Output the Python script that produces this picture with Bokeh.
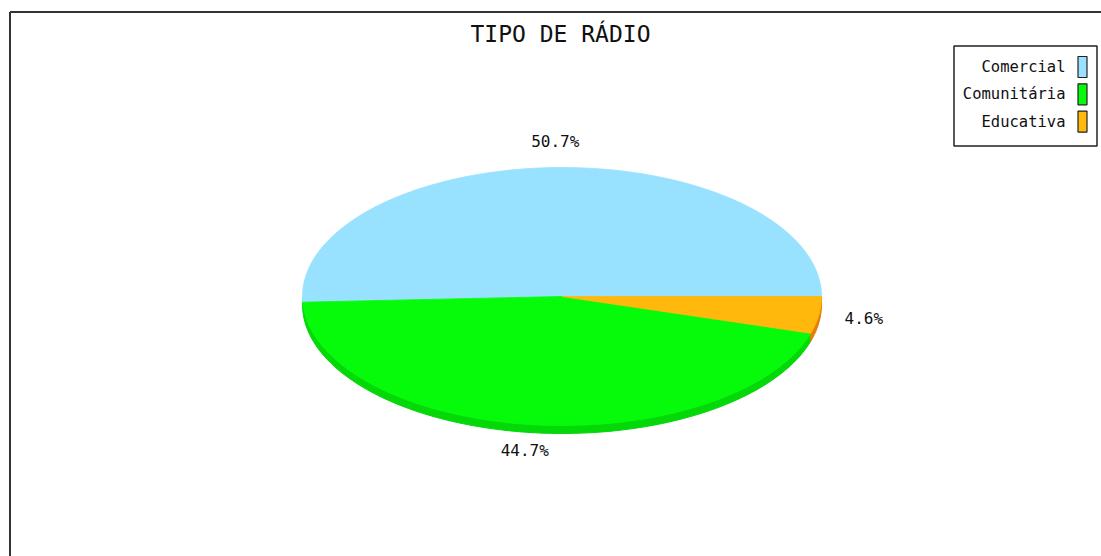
import numpy as np
from bokeh.plotting import figure
from bokeh.models import Range1d
from bokeh.core.properties import value
from bokeh.embed import file_html
from bokeh.resources import INLINE

# ---- data ----
title = "TIPO DE RÁDIO"
categories = ["Comercial", "Comunitária", "Educativa"]
percents = [50.7, 44.7, 4.6]
colors = ["#98e1ff", "#06fb0a", "#ffb80b"]
side_colors = ["#7fc6e6", "#04d808", "#e57d06"]

# ---- layout (pixel space) ----
W, H = 1101, 556
OFF = 8
cx, cy = 553.5, 288.0
rx, ry = 259.5, 129.0
depth = 8.0
lab_rx, lab_ry = 305.0, 155.0
FONT = "DejaVu Sans Mono"

p = figure(width=W, height=H, x_range=Range1d(-OFF, W - OFF),
           y_range=Range1d(H - OFF, -OFF),
           output_backend="svg", toolbar_location=None, min_border=0)
p.axis.visible = False
p.grid.visible = False
p.outline_line_color = None
p.background_fill_color = "white"
p.border_fill_color = "white"

# frame (left and top edges visible in window)
p.segment(x0=[1.5, 1.5], y0=[3.5, 3.5], x1=[1.5, W + 10], y1=[H + 10, 3.5],
          line_color="#333333", line_width=2)

# angles
fr = np.array(percents) / sum(percents)
ends = np.cumsum(fr) * 2 * np.pi
starts = np.concatenate([[0.0], ends[:-1]])

def arc(a0, a1, off=0.0, n=200):
    t = np.linspace(a0, a1, max(3, int(n * (a1 - a0) / (2 * np.pi)) + 3))
    return cx + rx * np.cos(t), cy - ry * np.sin(t) + off

# side band (front, lower half)
sx, sy, sc = [], [], []
for a0, a1, c in zip(starts, ends, side_colors):
    lo, hi = max(a0, np.pi), min(a1, 2 * np.pi)
    if hi > lo:
        x_top, y_top = arc(lo, hi)
        x_bot, y_bot = arc(lo, hi, depth)
        sx.append(list(x_top) + list(x_bot[::-1]))
        sy.append(list(y_top) + list(y_bot[::-1]))
        sc.append(c)
p.patches(xs=sx, ys=sy, fill_color=sc, line_color=sc, line_width=1)

# top wedges
wx, wy = [], []
for a0, a1 in zip(starts, ends):
    x_a, y_a = arc(a0, a1)
    wx.append([cx] + list(x_a))
    wy.append([cy] + list(y_a))
p.patches(xs=wx, ys=wy, fill_color=colors, line_color=colors, line_width=0.8)

# percentage labels
mids = (starts + ends) / 2
lx = cx + lab_rx * np.cos(mids)
ly = cy - lab_ry * np.sin(mids)
labels = [f"{v:.1f}%" for v in percents]
p.text(x=list(lx), y=list(ly), text=labels, text_font=value(FONT),
       text_font_size="16px", text_align="center", text_baseline="middle",
       text_color="#111111")

# title
p.text(x=[552], y=[25], text=[title], text_font=value(FONT),
       text_font_size="23px", text_align="center", text_baseline="middle",
       text_color="#111111")

# legend
p.quad(left=[945.5], right=[1088.5], top=[37.5], bottom=[137.5],
       fill_color="white", line_color="#222222", line_width=1.5)
n = len(categories)
leg_y = [58.5 + 27.3 * i for i in range(n)]
p.text(x=[1057] * n, y=leg_y, text=categories, text_font=value(FONT),
       text_font_size="15.5px", text_align="right", text_baseline="middle",
       text_color="#111111")
p.quad(left=[1069.5] * n, right=[1078.5] * n,
       top=[y - 10.5 for y in leg_y], bottom=[y + 10.5 for y in leg_y],
       fill_color=colors, line_color="#222222", line_width=1.2)

open("out.html", "w").write(file_html(p, INLINE))
